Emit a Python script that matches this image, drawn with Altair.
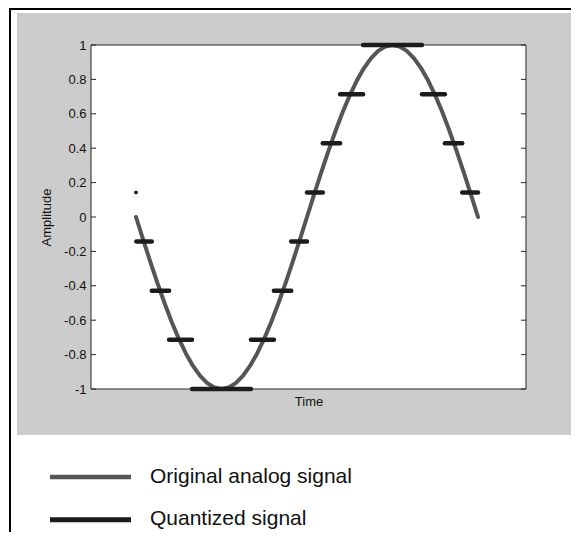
import altair as alt
import pandas as pd

# ---------------- data ----------------
analog_amplitude = [
    0.0, -0.131, -0.259, -0.383, -0.5, -0.609, -0.707, -0.793, -0.866, -0.924, -0.966, -0.991, -1.0,
    -0.991, -0.966, -0.924, -0.866, -0.793, -0.707, -0.609, -0.5, -0.383, -0.259, -0.131, 0.0,
    0.131, 0.259, 0.383, 0.5, 0.609, 0.707, 0.793, 0.866, 0.924, 0.966, 0.991, 1.0,
    0.991, 0.966, 0.924, 0.866, 0.793, 0.707, 0.609, 0.5, 0.383, 0.259, 0.131, 0.0,
]
analog_time = list(range(len(analog_amplitude)))

quant_start = [0.05, 2.214, 4.646, 7.866, 16.134, 19.354, 21.786, 24.0, 26.214, 28.646, 31.866, 40.134, 43.354, 45.786]
quant_end = [2.214, 4.646, 7.866, 16.134, 19.354, 21.786, 24.0, 26.214, 28.646, 31.866, 40.134, 43.354, 45.786, 48.0]
quant_level = [-0.143, -0.429, -0.714, -1.0, -0.714, -0.429, -0.143, 0.143, 0.429, 0.714, 1.0, 0.714, 0.429, 0.143]

first_sample_time = [0]
first_sample_level = [0.143]

y_ticks = [-1, -0.8, -0.6, -0.4, -0.2, 0, 0.2, 0.4, 0.6, 0.8, 1]

legend_labels = ["Original analog signal", "Quantized signal"]
legend_colors = ["#555555", "#1c1c1c"]

# ---------------- layout ----------------
W, H = 435, 344
PAD_L, PAD_T, PAD_R, PAD_B = 83, 37, 45, 143
FONT = "Liberation Sans"
AXIS_COLOR = "#262626"

analog_df = pd.DataFrame({"t": analog_time, "amp": analog_amplitude})
quant_df = pd.DataFrame({"t0": quant_start, "t1": quant_end, "lvl": quant_level})
dot_df = pd.DataFrame({"t": first_sample_time, "amp": first_sample_level})
tick_df = pd.DataFrame({"v": y_ticks})
dummy = pd.DataFrame({"a": [0]})

xscale = alt.Scale(domain=[-6.316, 54.737], nice=False, zero=False)
yscale = alt.Scale(domain=[-1, 1], nice=False, zero=False)

xaxis = alt.Axis(title="Time", labels=False, ticks=False, domain=False, grid=False,
                 titleFont=FONT, titleFontSize=13, titleFontWeight="normal",
                 titleColor="#111111", titlePadding=6, zindex=1)
yaxis = alt.Axis(title="Amplitude", values=y_ticks, ticks=False, domain=False, grid=False,
                 labelExpr="'' + datum.value", labelFont=FONT, labelFontSize=13,
                 labelColor="#111111", labelPadding=5,
                 titleFont=FONT, titleFontSize=13, titleFontWeight="normal",
                 titleColor="#111111", titlePadding=10, zindex=1)


def X(field):
    return alt.X(field, type="quantitative", scale=xscale, axis=xaxis)


def Y(field):
    return alt.Y(field, type="quantitative", scale=yscale, axis=yaxis)


gray_bg = alt.Chart(dummy).mark_rect(color="#cccccc").encode(
    x=alt.value(-74), x2=alt.value(W + PAD_R), y=alt.value(-32), y2=alt.value(H + 46)
)
plot_box = alt.Chart(dummy).mark_rect(fill="white", stroke=AXIS_COLOR, strokeWidth=1).encode(
    x=alt.value(0), x2=alt.value(W), y=alt.value(0), y2=alt.value(H)
)
border_left = alt.Chart(dummy).mark_rect(color="black").encode(
    x=alt.value(-82), x2=alt.value(-80), y=alt.value(-PAD_T), y2=alt.value(H + PAD_B)
)
border_top = alt.Chart(dummy).mark_rect(color="black").encode(
    x=alt.value(-82), x2=alt.value(W + PAD_R), y=alt.value(-PAD_T), y2=alt.value(-PAD_T + 2)
)

ticks_left = alt.Chart(tick_df).mark_rule(color=AXIS_COLOR, strokeWidth=1).encode(
    y=Y("v"), x=alt.value(0), x2=alt.value(5)
)
ticks_right = alt.Chart(tick_df).mark_rule(color=AXIS_COLOR, strokeWidth=1).encode(
    y=Y("v"), x=alt.value(W - 5), x2=alt.value(W)
)

analog = alt.Chart(analog_df).mark_line(
    color=legend_colors[0], strokeWidth=4, strokeCap="round", strokeJoin="round"
).encode(x=X("t"), y=Y("amp"))

quant = alt.Chart(quant_df).mark_rule(
    color=legend_colors[1], strokeWidth=4.5, strokeCap="round"
).encode(x=X("t0"), x2="t1", y=Y("lvl"))

dot = alt.Chart(dot_df).mark_circle(color=legend_colors[1], size=14, opacity=1).encode(
    x=X("t"), y=Y("amp")
)

legend_layers = []
legend_line_y = [432, 474.7]
legend_text_y = [437.8, 479.5]
for i, lab in enumerate(legend_labels):
    d = pd.DataFrame({"label": [lab]})
    legend_layers.append(
        alt.Chart(d).mark_rule(color=legend_colors[i], strokeWidth=5 if i else 4.5, strokeCap="butt").encode(
            x=alt.value(-41), x2=alt.value(40), y=alt.value(legend_line_y[i])
        )
    )
    legend_layers.append(
        alt.Chart(d).mark_text(font=FONT, fontSize=21, color="#111111", align="left",
                               baseline="alphabetic").encode(
            text="label:N", x=alt.value(59), y=alt.value(legend_text_y[i])
        )
    )

chart = alt.layer(
    gray_bg, plot_box, border_left, border_top, ticks_left, ticks_right,
    analog, quant, dot, *legend_layers
).properties(
    width=W, height=H,
    padding={"left": PAD_L, "top": PAD_T, "right": PAD_R, "bottom": PAD_B},
    autosize="none",
    background="white",
).configure_view(stroke=None)

chart.save("out.html", embed_options={"renderer": "svg", "actions": False})
